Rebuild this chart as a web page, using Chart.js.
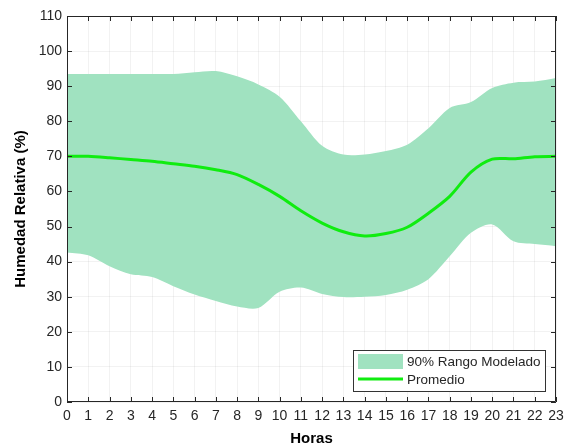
<!DOCTYPE html>
<html>
<head>
<meta charset="utf-8">
<script src="https://cdn.jsdelivr.net/npm/chart.js@4"></script>
<style>
  html, body { margin: 0; padding: 0; background: #fff; }
  #wrap { width: 565px; height: 448px; }
</style>
</head>
<body>
<div id="wrap"><canvas id="myChart" width="565" height="448"></canvas></div>
<script>
  let horas = [0, 1, 2, 3, 4, 5, 6, 7, 8, 9, 10, 11, 12, 13, 14, 15, 16, 17, 18, 19, 20, 21, 22, 23];
  let superior = [93.5, 93.5, 93.5, 93.5, 93.5, 93.5, 94, 94.3, 92.8, 90.5, 87, 80, 73, 70.5, 70.5, 71.5, 73.3, 78, 83.8, 85.5, 89.5, 91, 91.3, 92.3];
  let inferior = [42.6, 41.8, 38.7, 36.4, 35.6, 33, 30.6, 28.8, 27.2, 26.8, 31.4, 32.6, 30.8, 29.9, 30, 30.5, 32, 35, 41.5, 48.2, 50.6, 45.8, 45, 44.4];
  let promedio = [70, 70, 69.6, 69.1, 68.6, 67.9, 67.2, 66.2, 64.8, 62, 58.6, 54.5, 51, 48.5, 47.3, 48, 49.8, 53.8, 58.6, 65.5, 69.2, 69.3, 69.9, 70];
  let yTicks = [0, 10, 20, 30, 40, 50, 60, 70, 80, 90, 100, 110];

  let bandColor = "rgb(160, 226, 192)";
  let lineColor = "rgb(16, 236, 16)";
  let axisColor = "#262626";
  let fontFam = "'Liberation Sans', Arial, sans-serif";

  function pts(arr) {
    return horas.map(function (h, i) { return { x: h, y: arr[i] }; });
  }

  // caja, marcas hacia dentro y leyenda al estilo MATLAB
  let boxPlugin = {
    id: "boxPlugin",
    afterDraw: function (chart) {
      let ctx = chart.ctx;
      let a = chart.chartArea;
      let xs = chart.scales.x;
      let ys = chart.scales.y;
      ctx.save();
      ctx.strokeStyle = axisColor;
      ctx.lineWidth = 1;
      ctx.beginPath();
      ctx.rect(a.left + 0.5, a.top + 0.5, a.right - a.left - 1, a.bottom - a.top - 1);
      ctx.stroke();
      ctx.beginPath();
      horas.forEach(function (h) {
        let px = Math.round(xs.getPixelForValue(h)) + 0.5;
        ctx.moveTo(px, a.bottom);
        ctx.lineTo(px, a.bottom - 5);
        ctx.moveTo(px, a.top);
        ctx.lineTo(px, a.top + 5);
      });
      yTicks.forEach(function (v) {
        let py = Math.round(ys.getPixelForValue(v)) + 0.5;
        ctx.moveTo(a.left, py);
        ctx.lineTo(a.left + 5, py);
        ctx.moveTo(a.right, py);
        ctx.lineTo(a.right - 5, py);
      });
      ctx.stroke();

      // leyenda
      let lx = 353, ly = 350, lw = 192, lh = 41;
      ctx.fillStyle = "#fff";
      ctx.fillRect(lx, ly, lw, lh);
      ctx.strokeStyle = "#333";
      ctx.strokeRect(lx + 0.5, ly + 0.5, lw, lh);
      ctx.fillStyle = bandColor;
      ctx.fillRect(lx + 5, ly + 4, 45, 15);
      ctx.strokeStyle = lineColor;
      ctx.lineWidth = 3;
      ctx.beginPath();
      ctx.moveTo(lx + 5, ly + 29);
      ctx.lineTo(lx + 50, ly + 29);
      ctx.stroke();
      ctx.fillStyle = axisColor;
      ctx.font = "13.5px " + fontFam;
      ctx.textBaseline = "middle";
      ctx.fillText(chart.data.datasets[1].label, lx + 54, ly + 12);
      ctx.fillText(chart.data.datasets[2].label, lx + 54, ly + 30);
      ctx.restore();
    }
  };

  let ctx = document.getElementById("myChart").getContext("2d");
  let chart = new Chart(ctx, {
    type: "line",
    data: {
      datasets: [
        {
          label: "inferior",
          data: pts(inferior),
          borderWidth: 0,
          pointRadius: 0,
          fill: false,
          tension: 0.3,
          order: 2,
        },
        {
          label: "90% Rango Modelado",
          data: pts(superior),
          borderWidth: 0,
          pointRadius: 0,
          backgroundColor: bandColor,
          fill: "-1",
          tension: 0.3,
          order: 1,
        },
        {
          label: "Promedio",
          data: pts(promedio),
          borderColor: lineColor,
          borderWidth: 3,
          pointRadius: 0,
          fill: false,
          tension: 0.3,
          order: 0,
        },
      ],
    },
    plugins: [boxPlugin],
    options: {
      responsive: false,
      animation: false,
      layout: { padding: { top: 16, right: 9, left: 0, bottom: 0 } },
      plugins: {
        legend: { display: false },
        tooltip: { enabled: false },
        filler: { drawTime: "beforeDatasetsDraw" },
      },
      scales: {
        x: {
          type: "linear",
          min: 0,
          max: 23,
          afterBuildTicks: function (s) { s.ticks = horas.map(function (h) { return { value: h }; }); },
          afterFit: function (s) {
            s.height = 46;
            s.paddingLeft = 0;
            s.paddingRight = 0;
          },
          grid: { color: "rgba(0,0,0,0.05)", drawTicks: false },
          border: { display: false },
          ticks: {
            color: axisColor,
            padding: 6,
            maxRotation: 0,
            autoSkip: false,
            font: { family: fontFam, size: 14 },
          },
          title: {
            display: true,
            text: "Horas",
            color: "#000",
            padding: { top: 0, bottom: 0 },
            font: { family: fontFam, size: 15, weight: "bold" },
          },
        },
        y: {
          min: 0,
          max: 110,
          afterBuildTicks: function (s) { s.ticks = yTicks.map(function (v) { return { value: v }; }); },
          afterFit: function (s) { s.width = 67; },
          grid: { color: "rgba(0,0,0,0.05)", drawTicks: false },
          border: { display: false },
          ticks: {
            color: axisColor,
            padding: 5,
            font: { family: fontFam, size: 14 },
          },
          title: {
            display: true,
            text: "Humedad Relativa (%)",
            color: "#000",
            padding: { top: 12, bottom: 0 },
            font: { family: fontFam, size: 15, weight: "bold" },
          },
        },
      },
    },
  });
</script>
</body>
</html>
